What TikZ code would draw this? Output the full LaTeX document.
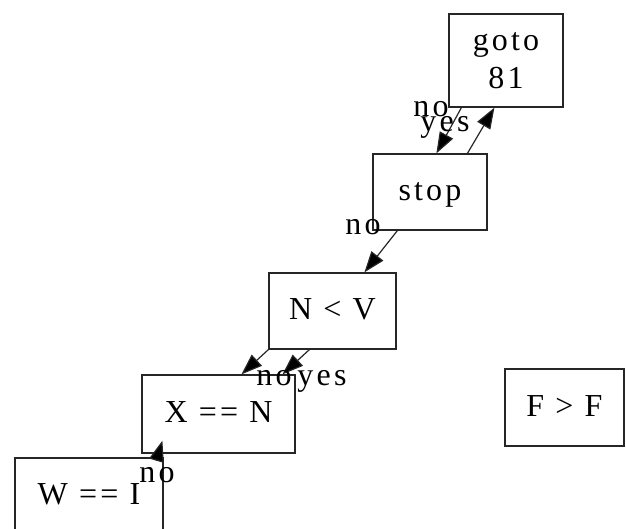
\documentclass[tikz,border=0pt]{standalone}
\usepackage{fontspec}
\setmainfont{Liberation Serif}[LetterSpace=10]
\usetikzlibrary{arrows.meta}
\begin{document}
\begin{tikzpicture}[x=1pt,y=-1pt,
  box/.style={draw=black!85, line width=1.2pt, rectangle, inner sep=0pt,
    font=\fontsize{32}{37.5}\selectfont},
  onel/.style={box, text height=22pt, text depth=5pt},
  lbl/.style={font=\fontsize{32}{35}\selectfont, inner sep=0pt, anchor=base},
  edge/.style={draw=black!85, line width=1.2pt, -{Triangle[length=21pt,width=15pt,fill=black]}}]
\useasboundingbox (0,0) rectangle (626,529);
\node[box, minimum width=114pt, minimum height=93pt, align=center] (goto) at (506,60.5) {goto\\81};
\node[onel, minimum width=114pt, minimum height=76pt] (stop) at (430,192) {stop};
\node[onel, minimum width=127pt, minimum height=76pt] (nv) at (332.5,311) {N < V};
\node[onel, minimum width=153pt, minimum height=78pt] (xn) at (218.5,414) {X == N};
\node[onel, minimum width=148pt, minimum height=76pt] (wi) at (89,496) {W == I};
\node[onel, minimum width=119pt, minimum height=77pt] (ff) at (564.5,407.5) {F > F};
\draw[edge] ([xshift=13pt]goto.south west) -- ([xshift=64pt]stop.north west);
\draw[edge] ([xshift=95pt]stop.north west) -- ([xshift=46pt]goto.south west);
\draw[edge] ([xshift=25pt]stop.south west) -- ([xshift=96pt]nv.north west);
\draw[edge] (nv.south west) -- ([xshift=100pt]xn.north west);
\draw[edge] ([xshift=41pt]nv.south west) -- ([xshift=141pt]xn.north west);
\draw[edge] ([xshift=143pt]wi.north west) -- ([xshift=21pt,yshift=13pt]xn.south west);
\node[lbl] (l1) at (431,117) {no};
\node[lbl] (l2) at (445,132) {yes};
\node[lbl] (l3) at (363,235) {no};
\node[lbl] (l4) at (274,385) {no};
\node[lbl] (l5) at (322,385) {yes};
\node[lbl] (l6) at (157,482) {no};
\end{tikzpicture}
\end{document}
